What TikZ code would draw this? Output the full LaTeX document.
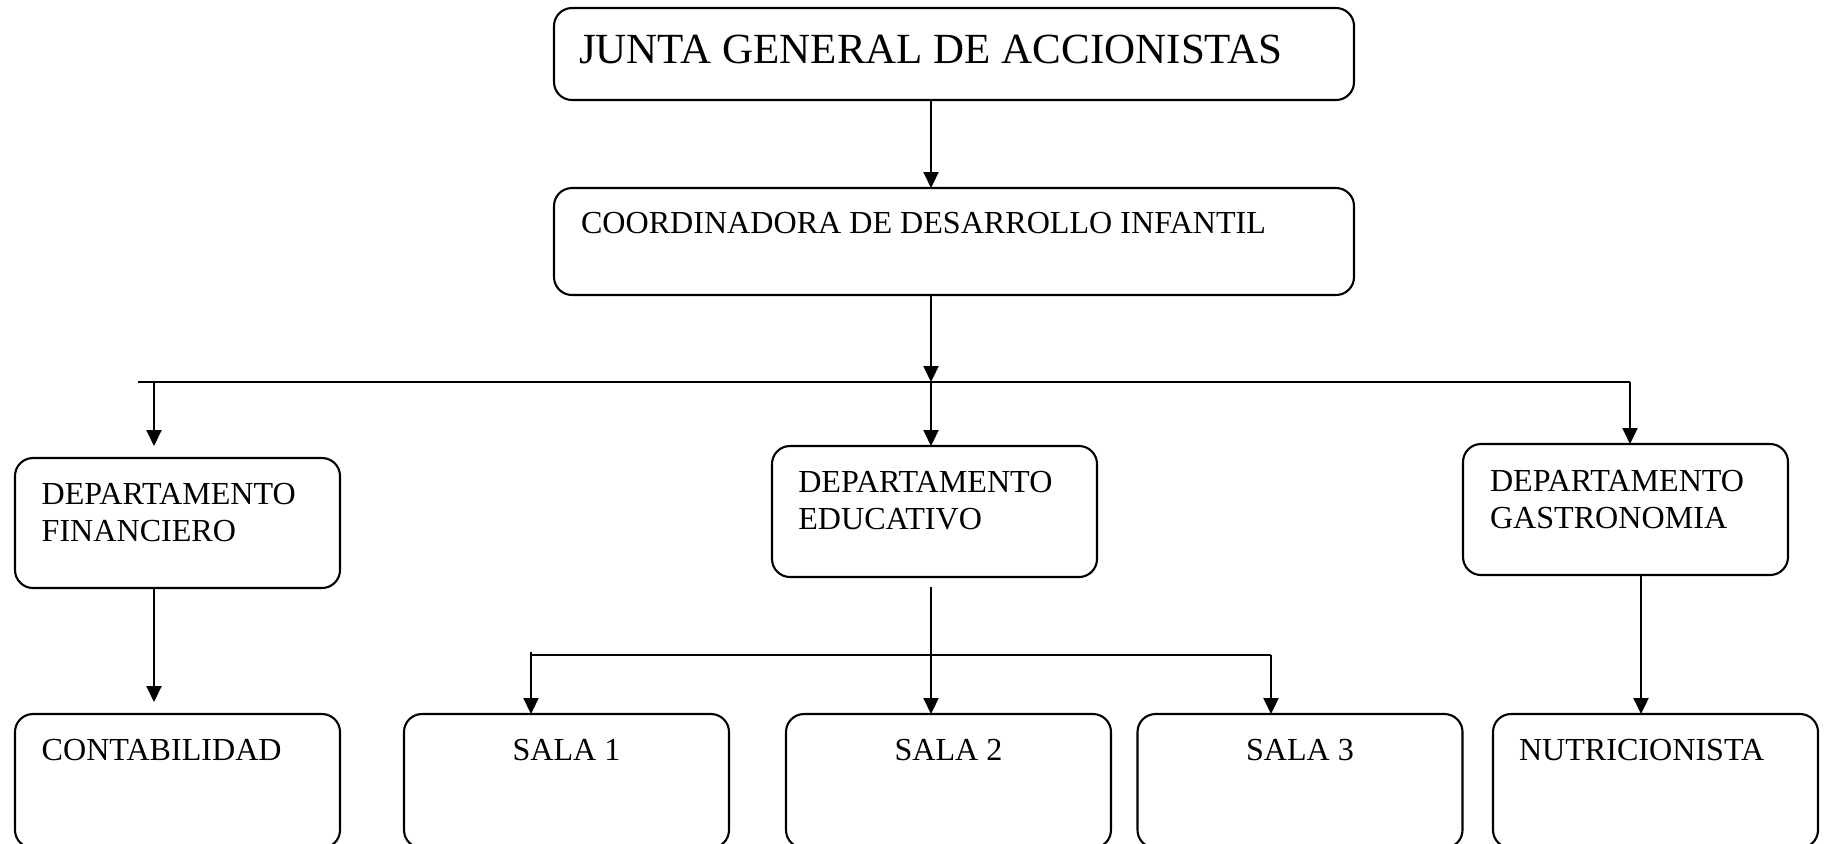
\documentclass[tikz,border=0pt]{standalone}
\usepackage{fontspec}
\setmainfont{Liberation Serif}
\usetikzlibrary{arrows.meta,calc}
\begin{document}
\begin{tikzpicture}[x=0.5pt,y=-0.5pt,
  box/.style={draw, line width=1.05pt, rounded corners=9pt, minimum width=162.5pt, inner sep=0pt, outer sep=0pt},
  conn/.style={line width=1.05pt},
  arr/.style={conn, -{Triangle[length=8pt,width=7.5pt]}},
  lbl/.style={inner sep=0pt, outer sep=0pt, anchor=base west, align=left, font=\fontsize{16.05pt}{18.3pt}\selectfont},
  ctr/.style={lbl, anchor=base, align=center},
  big/.style={lbl, font=\fontsize{21.5pt}{24pt}\selectfont}
]
\useasboundingbox (0,0) rectangle (1824,843);
\clip (0,0) rectangle (1824,843);
% boxes
\node[box, minimum width=400pt, minimum height=46pt] (top) at (954,54) {};
\node[box, minimum width=400pt, minimum height=53.5pt] (coord) at (954,241.5) {};
\node[box, minimum height=65pt] (fin) at (177.5,523) {};
\node[box, minimum height=65.5pt] (edu) at (934.5,511.5) {};
\node[box, minimum height=65.5pt] (gas) at (1625.5,509.5) {};
\node[box, minimum height=67pt] (contab) at (177.5,781) {};
\node[box, minimum height=67pt] (sala1) at (566.5,781) {};
\node[box, minimum height=67pt] (sala2) at (948.5,781) {};
\node[box, minimum height=67pt] (sala3) at (1300,781) {};
\node[box, minimum height=67pt] (nutri) at (1655.5,781) {};
% texts (multi-line texts are placed by the baseline of their last line)
\node[big] (ttop) at (579,63) {JUNTA GENERAL DE ACCIONISTAS};
\node[lbl] (tcoord) at (581,233) {COORDINADORA DE DESARROLLO INFANTIL};
\node[lbl] (tfin) at (41.7,541) {DEPARTAMENTO\\FINANCIERO};
\node[lbl] (tedu) at (798.3,529.5) {DEPARTAMENTO\\EDUCATIVO};
\node[lbl] (tgas) at (1490,528) {DEPARTAMENTO\\GASTRONOMIA};
\node[lbl] (tcontab) at (41.7,760.7) {CONTABILIDAD};
\node[ctr] (ts1) at (566.5,760) {SALA 1};
\node[ctr] (ts2) at (948.5,760) {SALA 2};
\node[ctr] (ts3) at (1300,760) {SALA 3};
\node[lbl] (tnutri) at (1519,760) {NUTRICIONISTA};
% junction coordinates
\coordinate (j) at (931,382);
\coordinate (jl) at (138,382);
\coordinate (jf) at (154,382);
\coordinate (jr) at (1630,382);
\coordinate (sl) at (531,655);
\coordinate (sr) at (1271,655);
\coordinate (gx) at (1641,0);
% connectors
\draw[arr] (top.south -| j) -- (coord.north -| j);
\draw[arr] (coord.south -| j) -- (j);
\draw[conn] (jl) -- (jr);
\draw[arr] (j) -- (edu.north -| j);
\draw[arr, shorten >=6pt] (jf) -- (fin.north -| jf);
\draw[arr] (jr) -- (gas.north -| jr);
\draw[arr, shorten >=6pt] (fin.south -| jf) -- (contab.north -| jf);
\draw[arr, shorten <=5pt] (edu.south -| j) -- (sala2.north -| j);
\draw[conn] (sl) -- (sr);
\draw[arr] ([yshift=1.5pt]sl) -- (sala1.north -| sl);
\draw[arr] (sr) -- (sala3.north -| sr);
\draw[arr] (gas.south -| gx) -- (nutri.north -| gx);
\end{tikzpicture}
\end{document}
